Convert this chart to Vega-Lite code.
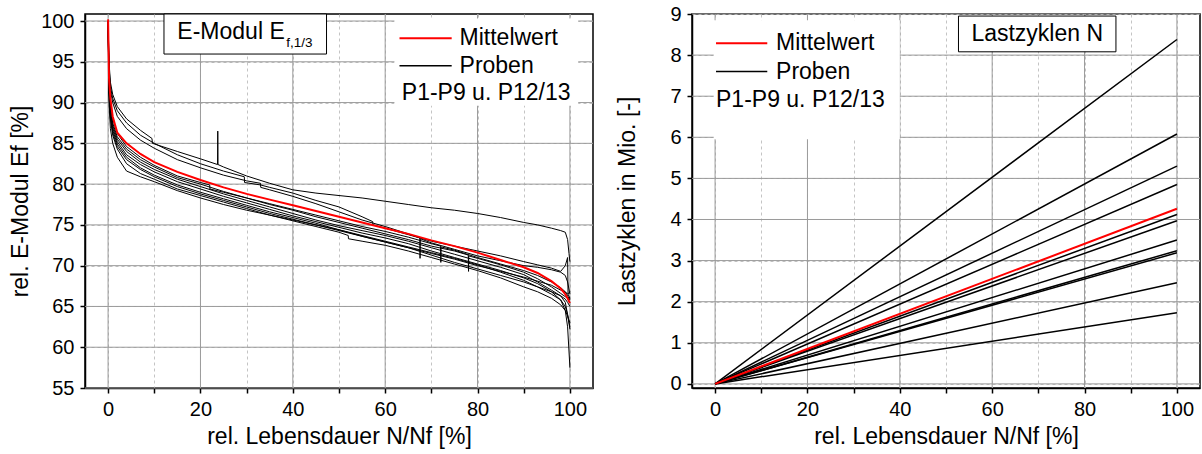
{
"$schema": "https://vega.github.io/schema/vega-lite/v6.json",
"padding": {"left": 8, "top": 3, "right": 0, "bottom": 0},
"bounds": "flush",
"spacing": 99,
"config": {
  "font": "Liberation Sans",
  "view": {"stroke": "black", "strokeWidth": 1.5},
  "axis": {"domainColor": "black", "domainWidth": 1.5, "tickColor": "black", "tickWidth": 1.5, "tickSize": 5, "labelFont": "Liberation Sans", "labelFontSize": 20, "labelColor": "black", "titleFont": "Liberation Sans", "titleFontSize": 23, "titleFontWeight": "normal", "titleColor": "black", "labelPadding": 6, "grid": true, "gridColor": "#c4c4c4", "gridDash": [3, 3], "gridWidth": 1, "labelOverlap": false, "labelFlush": false, "titlePadding": 8}
},
"datasets": {
  "xmaj": [{"v":0},{"v":20},{"v":40},{"v":60},{"v":80},{"v":100}],
  "ymajE": [{"v":55},{"v":60},{"v":65},{"v":70},{"v":75},{"v":80},{"v":85},{"v":90},{"v":95},{"v":100}],
  "ymajL": [{"v":0},{"v":1},{"v":2},{"v":3},{"v":4},{"v":5},{"v":6},{"v":7},{"v":8},{"v":9}],
  "emod": [
    {"p":"P1","x":0,"y":100},{"p":"P1","x":0.2,"y":95},{"p":"P1","x":0.5,"y":92.5},{"p":"P1","x":1,"y":91},{"p":"P1","x":2,"y":89.5},{"p":"P1","x":4,"y":88},{"p":"P1","x":7,"y":86.6},{"p":"P1","x":9.5,"y":85.6},{"p":"P1","x":9.6,"y":85.0},{"p":"P1","x":15,"y":84},{"p":"P1","x":20,"y":83.1},{"p":"P1","x":23.7,"y":82.4},{"p":"P1","x":23.75,"y":86.5},{"p":"P1","x":23.8,"y":82.4},{"p":"P1","x":25,"y":82.1},{"p":"P1","x":30,"y":81.0},{"p":"P1","x":35,"y":80.1},{"p":"P1","x":40,"y":79.3},{"p":"P1","x":45,"y":78.9},{"p":"P1","x":50,"y":78.6},{"p":"P1","x":55,"y":78.3},{"p":"P1","x":60,"y":77.9},{"p":"P1","x":65,"y":77.5},{"p":"P1","x":70,"y":77.1},{"p":"P1","x":75,"y":76.8},{"p":"P1","x":80,"y":76.4},{"p":"P1","x":85,"y":75.9},{"p":"P1","x":90,"y":75.3},{"p":"P1","x":93,"y":75.0},{"p":"P1","x":96,"y":74.6},{"p":"P1","x":98,"y":74.3},{"p":"P1","x":99,"y":74.1},{"p":"P1","x":99.5,"y":73.2},{"p":"P1","x":99.8,"y":71.5},{"p":"P1","x":100,"y":70.5},
    {"p":"P2","x":0,"y":100},{"p":"P2","x":0.2,"y":94.5},{"p":"P2","x":0.5,"y":92},{"p":"P2","x":1,"y":90.5},{"p":"P2","x":2,"y":89},{"p":"P2","x":4,"y":87.5},{"p":"P2","x":7,"y":86.0},{"p":"P2","x":10,"y":85.0},{"p":"P2","x":15,"y":83.6},{"p":"P2","x":20,"y":82.5},{"p":"P2","x":25,"y":81.6},{"p":"P2","x":29.5,"y":80.9},{"p":"P2","x":29.55,"y":80.2},{"p":"P2","x":33,"y":79.9},{"p":"P2","x":35,"y":79.6},{"p":"P2","x":40,"y":78.9},{"p":"P2","x":45,"y":78.0},{"p":"P2","x":50,"y":77.2},{"p":"P2","x":55,"y":76.0},{"p":"P2","x":57.3,"y":75.4},{"p":"P2","x":57.35,"y":75.0},{"p":"P2","x":60,"y":74.6},{"p":"P2","x":65,"y":73.8},{"p":"P2","x":70,"y":73.0},{"p":"P2","x":75,"y":72.4},{"p":"P2","x":80,"y":71.8},{"p":"P2","x":85,"y":71.2},{"p":"P2","x":90,"y":70.5},{"p":"P2","x":93,"y":70.1},{"p":"P2","x":96,"y":69.7},{"p":"P2","x":98,"y":69.3},{"p":"P2","x":99,"y":70.0},{"p":"P2","x":99.5,"y":71.0},{"p":"P2","x":99.6,"y":66.5},{"p":"P2","x":100,"y":66.0},
    {"p":"P3","x":0,"y":100},{"p":"P3","x":0.2,"y":94},{"p":"P3","x":0.5,"y":91.5},{"p":"P3","x":1,"y":90},{"p":"P3","x":2,"y":88.3},{"p":"P3","x":4,"y":86.8},{"p":"P3","x":7,"y":85.4},{"p":"P3","x":10,"y":84.4},{"p":"P3","x":15,"y":83.0},{"p":"P3","x":20,"y":82.0},{"p":"P3","x":25,"y":81.1},{"p":"P3","x":30,"y":80.4},{"p":"P3","x":33,"y":80.1},{"p":"P3","x":33.05,"y":79.6},{"p":"P3","x":35,"y":79.3},{"p":"P3","x":40,"y":78.5},{"p":"P3","x":45,"y":77.6},{"p":"P3","x":50,"y":76.6},{"p":"P3","x":55,"y":75.6},{"p":"P3","x":60,"y":74.8},{"p":"P3","x":65,"y":73.9},{"p":"P3","x":67.5,"y":73.4},{"p":"P3","x":67.55,"y":70.9},{"p":"P3","x":67.6,"y":73.3},{"p":"P3","x":70,"y":72.8},{"p":"P3","x":75,"y":72.0},{"p":"P3","x":80,"y":71.2},{"p":"P3","x":85,"y":70.6},{"p":"P3","x":90,"y":70.0},{"p":"P3","x":93,"y":69.8},{"p":"P3","x":96,"y":69.5},{"p":"P3","x":98,"y":69.2},{"p":"P3","x":99,"y":68.8},{"p":"P3","x":99.5,"y":68.0},{"p":"P3","x":100,"y":66.5},
    {"p":"P4","x":0,"y":100},{"p":"P4","x":0.2,"y":93},{"p":"P4","x":0.5,"y":90},{"p":"P4","x":1,"y":88},{"p":"P4","x":2,"y":86.2},{"p":"P4","x":4,"y":84.6},{"p":"P4","x":7,"y":83.3},{"p":"P4","x":10,"y":82.3},{"p":"P4","x":15,"y":81.0},{"p":"P4","x":20,"y":80.2},{"p":"P4","x":22,"y":79.9},{"p":"P4","x":22.05,"y":79.4},{"p":"P4","x":25,"y":79.0},{"p":"P4","x":30,"y":78.3},{"p":"P4","x":35,"y":77.6},{"p":"P4","x":40,"y":76.9},{"p":"P4","x":45,"y":76.2},{"p":"P4","x":50,"y":75.5},{"p":"P4","x":55,"y":74.8},{"p":"P4","x":60,"y":74.2},{"p":"P4","x":65,"y":73.5},{"p":"P4","x":70,"y":72.7},{"p":"P4","x":72,"y":72.4},{"p":"P4","x":72.05,"y":70.4},{"p":"P4","x":72.1,"y":72.3},{"p":"P4","x":75,"y":71.9},{"p":"P4","x":80,"y":71.0},{"p":"P4","x":85,"y":70.2},{"p":"P4","x":90,"y":69.4},{"p":"P4","x":93,"y":68.8},{"p":"P4","x":96,"y":68.0},{"p":"P4","x":98,"y":67.3},{"p":"P4","x":99,"y":66.8},{"p":"P4","x":99.5,"y":66.3},{"p":"P4","x":100,"y":65.8},
    {"p":"P5","x":0,"y":100},{"p":"P5","x":0.2,"y":92.5},{"p":"P5","x":0.5,"y":89.5},{"p":"P5","x":1,"y":87.5},{"p":"P5","x":2,"y":85.8},{"p":"P5","x":4,"y":84.3},{"p":"P5","x":7,"y":83.0},{"p":"P5","x":10,"y":82.1},{"p":"P5","x":15,"y":80.8},{"p":"P5","x":20,"y":80.0},{"p":"P5","x":25,"y":79.1},{"p":"P5","x":30,"y":78.3},{"p":"P5","x":35,"y":77.5},{"p":"P5","x":40,"y":76.8},{"p":"P5","x":45,"y":76.0},{"p":"P5","x":50,"y":75.3},{"p":"P5","x":55,"y":74.6},{"p":"P5","x":60,"y":73.9},{"p":"P5","x":65,"y":73.2},{"p":"P5","x":70,"y":72.4},{"p":"P5","x":75,"y":71.8},{"p":"P5","x":78,"y":71.3},{"p":"P5","x":78.05,"y":69.3},{"p":"P5","x":78.1,"y":71.2},{"p":"P5","x":80,"y":70.9},{"p":"P5","x":85,"y":70.1},{"p":"P5","x":90,"y":69.2},{"p":"P5","x":93,"y":68.4},{"p":"P5","x":96,"y":67.4},{"p":"P5","x":98,"y":66.6},{"p":"P5","x":99,"y":66.2},{"p":"P5","x":99.5,"y":66.0},{"p":"P5","x":100,"y":65.9},
    {"p":"P6","x":0,"y":100},{"p":"P6","x":0.2,"y":92},{"p":"P6","x":0.5,"y":89},{"p":"P6","x":1,"y":87.2},{"p":"P6","x":2,"y":85.5},{"p":"P6","x":4,"y":84.0},{"p":"P6","x":7,"y":82.7},{"p":"P6","x":10,"y":81.8},{"p":"P6","x":15,"y":80.6},{"p":"P6","x":20,"y":79.7},{"p":"P6","x":25,"y":78.8},{"p":"P6","x":30,"y":78.0},{"p":"P6","x":35,"y":77.2},{"p":"P6","x":40,"y":76.4},{"p":"P6","x":45,"y":75.6},{"p":"P6","x":50,"y":74.9},{"p":"P6","x":55,"y":74.3},{"p":"P6","x":60,"y":73.7},{"p":"P6","x":65,"y":73.0},{"p":"P6","x":70,"y":72.2},{"p":"P6","x":75,"y":71.4},{"p":"P6","x":80,"y":70.6},{"p":"P6","x":85,"y":69.8},{"p":"P6","x":90,"y":68.9},{"p":"P6","x":93,"y":68.0},{"p":"P6","x":96,"y":67.0},{"p":"P6","x":98,"y":66.3},{"p":"P6","x":99,"y":65.5},{"p":"P6","x":99.5,"y":64.0},{"p":"P6","x":100,"y":62.5},
    {"p":"P7","x":0,"y":100},{"p":"P7","x":0.2,"y":92},{"p":"P7","x":0.5,"y":88.8},{"p":"P7","x":1,"y":86.9},{"p":"P7","x":2,"y":85.2},{"p":"P7","x":4,"y":83.6},{"p":"P7","x":7,"y":82.4},{"p":"P7","x":10,"y":81.5},{"p":"P7","x":15,"y":80.3},{"p":"P7","x":20,"y":79.4},{"p":"P7","x":25,"y":78.5},{"p":"P7","x":30,"y":77.7},{"p":"P7","x":35,"y":76.9},{"p":"P7","x":40,"y":76.1},{"p":"P7","x":45,"y":75.4},{"p":"P7","x":50,"y":74.7},{"p":"P7","x":55,"y":74.0},{"p":"P7","x":60,"y":73.4},{"p":"P7","x":65,"y":72.7},{"p":"P7","x":70,"y":71.8},{"p":"P7","x":75,"y":71.0},{"p":"P7","x":80,"y":70.2},{"p":"P7","x":85,"y":69.4},{"p":"P7","x":90,"y":68.5},{"p":"P7","x":93,"y":67.8},{"p":"P7","x":96,"y":66.8},{"p":"P7","x":98,"y":65.8},{"p":"P7","x":99,"y":64.5},{"p":"P7","x":99.5,"y":62.5},{"p":"P7","x":100,"y":57.5},
    {"p":"P8","x":0,"y":100},{"p":"P8","x":0.2,"y":91.5},{"p":"P8","x":0.5,"y":88.5},{"p":"P8","x":1,"y":86.6},{"p":"P8","x":2,"y":84.9},{"p":"P8","x":4,"y":83.3},{"p":"P8","x":7,"y":82.0},{"p":"P8","x":10,"y":81.1},{"p":"P8","x":15,"y":79.9},{"p":"P8","x":20,"y":79.0},{"p":"P8","x":25,"y":78.2},{"p":"P8","x":30,"y":77.4},{"p":"P8","x":35,"y":76.6},{"p":"P8","x":40,"y":75.9},{"p":"P8","x":45,"y":75.2},{"p":"P8","x":50,"y":74.4},{"p":"P8","x":55,"y":73.7},{"p":"P8","x":60,"y":73.0},{"p":"P8","x":65,"y":72.3},{"p":"P8","x":70,"y":71.6},{"p":"P8","x":75,"y":70.9},{"p":"P8","x":80,"y":70.1},{"p":"P8","x":85,"y":69.2},{"p":"P8","x":90,"y":68.2},{"p":"P8","x":93,"y":67.4},{"p":"P8","x":96,"y":66.5},{"p":"P8","x":98,"y":65.8},{"p":"P8","x":99,"y":65.0},{"p":"P8","x":99.5,"y":64.0},{"p":"P8","x":100,"y":62.2},
    {"p":"P9","x":0,"y":100},{"p":"P9","x":0.2,"y":91.5},{"p":"P9","x":0.5,"y":88.2},{"p":"P9","x":1,"y":86.3},{"p":"P9","x":2,"y":84.6},{"p":"P9","x":4,"y":83.0},{"p":"P9","x":7,"y":81.8},{"p":"P9","x":10,"y":80.9},{"p":"P9","x":15,"y":79.7},{"p":"P9","x":20,"y":78.8},{"p":"P9","x":25,"y":78.0},{"p":"P9","x":30,"y":77.2},{"p":"P9","x":35,"y":76.4},{"p":"P9","x":40,"y":75.7},{"p":"P9","x":45,"y":75.0},{"p":"P9","x":50,"y":74.3},{"p":"P9","x":55,"y":73.6},{"p":"P9","x":60,"y":72.9},{"p":"P9","x":65,"y":72.2},{"p":"P9","x":70,"y":71.5},{"p":"P9","x":75,"y":70.8},{"p":"P9","x":80,"y":70.0},{"p":"P9","x":85,"y":69.3},{"p":"P9","x":90,"y":68.6},{"p":"P9","x":93,"y":68.1},{"p":"P9","x":96,"y":67.6},{"p":"P9","x":98,"y":67.0},{"p":"P9","x":99,"y":66.8},{"p":"P9","x":99.5,"y":66.5},{"p":"P9","x":100,"y":66.8},
    {"p":"P12","x":0,"y":100},{"p":"P12","x":0.2,"y":91},{"p":"P12","x":0.5,"y":88},{"p":"P12","x":1,"y":86},{"p":"P12","x":2,"y":84.3},{"p":"P12","x":4,"y":82.5},{"p":"P12","x":7,"y":81.3},{"p":"P12","x":10,"y":80.6},{"p":"P12","x":15,"y":79.4},{"p":"P12","x":20,"y":78.6},{"p":"P12","x":25,"y":77.8},{"p":"P12","x":30,"y":77.0},{"p":"P12","x":35,"y":76.2},{"p":"P12","x":40,"y":75.5},{"p":"P12","x":45,"y":74.8},{"p":"P12","x":50,"y":74.1},{"p":"P12","x":52,"y":73.7},{"p":"P12","x":52.05,"y":73.3},{"p":"P12","x":55,"y":73.0},{"p":"P12","x":60,"y":72.5},{"p":"P12","x":65,"y":71.8},{"p":"P12","x":70,"y":71.0},{"p":"P12","x":75,"y":70.2},{"p":"P12","x":80,"y":69.4},{"p":"P12","x":85,"y":68.5},{"p":"P12","x":90,"y":67.4},{"p":"P12","x":93,"y":66.8},{"p":"P12","x":96,"y":66.0},{"p":"P12","x":98,"y":65.2},{"p":"P12","x":99,"y":64.5},{"p":"P12","x":99.5,"y":63.8},{"p":"P12","x":100,"y":63.0},
    {"p":"P13","x":0,"y":100},{"p":"P13","x":0.2,"y":90},{"p":"P13","x":0.5,"y":86.8},{"p":"P13","x":1,"y":85.0},{"p":"P13","x":2,"y":83.3},{"p":"P13","x":4,"y":81.6},{"p":"P13","x":7,"y":80.9},{"p":"P13","x":10,"y":80.3},{"p":"P13","x":15,"y":79.2},{"p":"P13","x":20,"y":78.3},{"p":"P13","x":25,"y":77.5},{"p":"P13","x":30,"y":76.8},{"p":"P13","x":35,"y":76.2},{"p":"P13","x":40,"y":75.6},{"p":"P13","x":45,"y":75.0},{"p":"P13","x":50,"y":74.4},{"p":"P13","x":55,"y":73.6},{"p":"P13","x":60,"y":72.9},{"p":"P13","x":65,"y":72.2},{"p":"P13","x":70,"y":71.3},{"p":"P13","x":75,"y":70.4},{"p":"P13","x":80,"y":69.6},{"p":"P13","x":85,"y":68.8},{"p":"P13","x":90,"y":68.0},{"p":"P13","x":93,"y":67.4},{"p":"P13","x":96,"y":66.8},{"p":"P13","x":98,"y":66.3},{"p":"P13","x":99,"y":65.9},{"p":"P13","x":99.5,"y":65.5},{"p":"P13","x":100,"y":65.0}
  ],
  "emean": [
    {"x":0,"y":100.2},{"x":0.2,"y":93},{"x":0.5,"y":90.5},{"x":1,"y":88.3},{"x":2,"y":86.3},{"x":4,"y":85.0},{"x":7,"y":83.7},{"x":10,"y":82.7},{"x":15,"y":81.5},{"x":20,"y":80.5},{"x":25,"y":79.6},{"x":30,"y":78.8},{"x":35,"y":78.1},{"x":40,"y":77.4},{"x":45,"y":76.7},{"x":50,"y":76.0},{"x":55,"y":75.3},{"x":60,"y":74.6},{"x":65,"y":73.9},{"x":70,"y":73.1},{"x":75,"y":72.4},{"x":80,"y":71.6},{"x":85,"y":70.7},{"x":90,"y":69.8},{"x":93,"y":69.1},{"x":96,"y":68.1},{"x":98,"y":67.2},{"x":99,"y":66.5},{"x":99.5,"y":66.0},{"x":100,"y":65.4}
  ],
  "lz": [
    {"p":"P1","x":0,"n":0},{"p":"P1","x":100,"n":8.38},
    {"p":"P2","x":0,"n":0},{"p":"P2","x":100,"n":6.08},
    {"p":"P3","x":0,"n":0},{"p":"P3","x":100,"n":5.30},
    {"p":"P4","x":0,"n":0},{"p":"P4","x":100,"n":4.85},
    {"p":"P5","x":0,"n":0},{"p":"P5","x":100,"n":4.12},
    {"p":"P6","x":0,"n":0},{"p":"P6","x":100,"n":3.97},
    {"p":"P7","x":0,"n":0},{"p":"P7","x":100,"n":3.50},
    {"p":"P8","x":0,"n":0},{"p":"P8","x":100,"n":3.24},
    {"p":"P9","x":0,"n":0},{"p":"P9","x":100,"n":3.19},
    {"p":"P12","x":0,"n":0},{"p":"P12","x":100,"n":2.46},
    {"p":"P13","x":0,"n":0},{"p":"P13","x":100,"n":1.73}
  ],
  "lzmean": [
    {"x":0,"n":0},{"x":100,"n":4.26}
  ]
},
"hconcat": [
  {
    "width": 508, "height": 374,
    "layer": [
      {"data": {"name": "xmaj"}, "mark": {"type": "rule", "color": "#9a9a9a", "strokeWidth": 1},
       "encoding": {"x": {"field": "v", "type": "quantitative"}}},
      {"data": {"name": "ymajE"}, "mark": {"type": "rule", "color": "#9a9a9a", "strokeWidth": 1},
       "encoding": {"y": {"field": "v", "type": "quantitative"}}},
      {"data": {"name": "emod"}, "mark": {"type": "line", "color": "black", "strokeWidth": 1},
       "encoding": {
         "x": {"field": "x", "type": "quantitative", "scale": {"domain": [-5, 105], "nice": false, "zero": false},
               "axis": {"values": [0,10,20,30,40,50,60,70,80,90,100], "labelExpr": "datum.value % 20 === 0 ? datum.label : ''",
                        "title": "rel. Lebensdauer N/Nf [%]", "titlePadding": 6}},
         "y": {"field": "y", "type": "quantitative", "scale": {"domain": [55, 100.86], "nice": false, "zero": false},
               "axis": {"values": [55,57.5,60,62.5,65,67.5,70,72.5,75,77.5,80,82.5,85,87.5,90,92.5,95,97.5,100], "labelExpr": "datum.value % 5 === 0 ? datum.label : ''",
                        "title": "rel. E-Modul Ef [%]"}},
         "detail": {"field": "p", "type": "nominal"}
       }},
      {"data": {"name": "emean"}, "mark": {"type": "line", "color": "#ff0000", "strokeWidth": 2},
       "encoding": {"x": {"field": "x", "type": "quantitative"}, "y": {"field": "y", "type": "quantitative"}}},
      {"data": {"values": [{}]}, "mark": {"type": "rect", "fill": "white"},
       "encoding": {"x": {"datum": 62}, "x2": {"datum": 101.8}, "y": {"datum": 89.6}, "y2": {"datum": 100.3}}},
      {"data": {"values": [{}]}, "mark": {"type": "rect", "fill": "white", "stroke": "black", "strokeWidth": 1},
       "encoding": {"x": {"datum": 12.1}, "x2": {"datum": 47.3}, "y": {"datum": 95.95}, "y2": {"datum": 100.86}}},
      {"data": {"values": [{}]}, "mark": {"type": "text", "text": "E-Modul E", "align": "left", "baseline": "middle", "fontSize": 23, "color": "black"},
       "encoding": {"x": {"datum": 15.0}, "y": {"datum": 98.6}}},
      {"data": {"values": [{}]}, "mark": {"type": "text", "text": "f,1/3", "align": "left", "baseline": "middle", "fontSize": 13.5, "color": "black"},
       "encoding": {"x": {"datum": 38.6}, "y": {"datum": 97.3}}},
      {"data": {"values": [{}]}, "mark": {"type": "rule", "color": "#ff0000", "strokeWidth": 2},
       "encoding": {"x": {"datum": 63.1}, "x2": {"datum": 74.4}, "y": {"datum": 97.9}}},
      {"data": {"values": [{}]}, "mark": {"type": "rule", "color": "black", "strokeWidth": 1.5},
       "encoding": {"x": {"datum": 63.1}, "x2": {"datum": 74.4}, "y": {"datum": 94.5}}},
      {"data": {"values": [{}]}, "mark": {"type": "text", "text": "Mittelwert", "align": "left", "baseline": "middle", "fontSize": 23, "color": "black"},
       "encoding": {"x": {"datum": 76.1}, "y": {"datum": 97.9}}},
      {"data": {"values": [{}]}, "mark": {"type": "text", "text": "Proben", "align": "left", "baseline": "middle", "fontSize": 23, "color": "black"},
       "encoding": {"x": {"datum": 76.1}, "y": {"datum": 94.5}}},
      {"data": {"values": [{}]}, "mark": {"type": "text", "text": "P1-P9 u. P12/13", "align": "left", "baseline": "middle", "fontSize": 23, "color": "black"},
       "encoding": {"x": {"datum": 63.6}, "y": {"datum": 91.2}}}
    ]
  },
  {
    "width": 508, "height": 374,
    "layer": [
      {"data": {"name": "xmaj"}, "mark": {"type": "rule", "color": "#9a9a9a", "strokeWidth": 1},
       "encoding": {"x": {"field": "v", "type": "quantitative"}}},
      {"data": {"name": "ymajL"}, "mark": {"type": "rule", "color": "#9a9a9a", "strokeWidth": 1},
       "encoding": {"y": {"field": "v", "type": "quantitative"}}},
      {"data": {"name": "lz"}, "mark": {"type": "line", "color": "black", "strokeWidth": 1.5},
       "encoding": {
         "x": {"field": "x", "type": "quantitative", "scale": {"domain": [-5, 105], "nice": false, "zero": false},
               "axis": {"values": [0,10,20,30,40,50,60,70,80,90,100], "labelExpr": "datum.value % 20 === 0 ? datum.label : ''",
                        "title": "rel. Lebensdauer N/Nf [%]", "titlePadding": 6}},
         "y": {"field": "n", "type": "quantitative", "scale": {"domain": [-0.1, 9], "nice": false, "zero": false},
               "axis": {"values": [0,0.5,1,1.5,2,2.5,3,3.5,4,4.5,5,5.5,6,6.5,7,7.5,8,8.5,9], "labelExpr": "datum.value % 1 === 0 ? datum.label : ''",
                        "title": "Lastzyklen in Mio. [-]", "titlePadding": 30}},
         "detail": {"field": "p", "type": "nominal"}
       }},
      {"data": {"name": "lzmean"}, "mark": {"type": "line", "color": "#ff0000", "strokeWidth": 2},
       "encoding": {"x": {"field": "x", "type": "quantitative"}, "y": {"field": "n", "type": "quantitative"}}},
      {"data": {"values": [{}]}, "mark": {"type": "rect", "fill": "white"},
       "encoding": {"x": {"datum": -0.3}, "x2": {"datum": 40}, "y": {"datum": 5.95}, "y2": {"datum": 8.85}}},
      {"data": {"values": [{}]}, "mark": {"type": "rect", "fill": "white", "stroke": "black", "strokeWidth": 1},
       "encoding": {"x": {"datum": 52.7}, "x2": {"datum": 86.8}, "y": {"datum": 8.08}, "y2": {"datum": 8.95}}},
      {"data": {"values": [{}]}, "mark": {"type": "text", "text": "Lastzyklen N", "align": "center", "baseline": "middle", "fontSize": 23, "color": "black"},
       "encoding": {"x": {"datum": 69.75}, "y": {"datum": 8.52}}},
      {"data": {"values": [{}]}, "mark": {"type": "rule", "color": "#ff0000", "strokeWidth": 2},
       "encoding": {"x": {"datum": 0.2}, "x2": {"datum": 11.3}, "y": {"datum": 8.29}}},
      {"data": {"values": [{}]}, "mark": {"type": "rule", "color": "black", "strokeWidth": 1.5},
       "encoding": {"x": {"datum": 0.2}, "x2": {"datum": 11.3}, "y": {"datum": 7.6}}},
      {"data": {"values": [{}]}, "mark": {"type": "text", "text": "Mittelwert", "align": "left", "baseline": "middle", "fontSize": 23, "color": "black"},
       "encoding": {"x": {"datum": 13.2}, "y": {"datum": 8.29}}},
      {"data": {"values": [{}]}, "mark": {"type": "text", "text": "Proben", "align": "left", "baseline": "middle", "fontSize": 23, "color": "black"},
       "encoding": {"x": {"datum": 13.2}, "y": {"datum": 7.6}}},
      {"data": {"values": [{}]}, "mark": {"type": "text", "text": "P1-P9 u. P12/13", "align": "left", "baseline": "middle", "fontSize": 23, "color": "black"},
       "encoding": {"x": {"datum": 0.2}, "y": {"datum": 6.91}}}
    ]
  }
]
}
